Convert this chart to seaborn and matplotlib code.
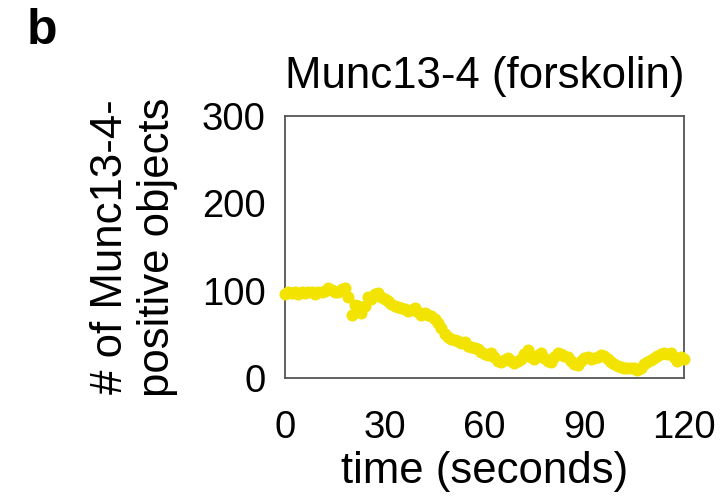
import matplotlib
matplotlib.use("Agg")
import matplotlib.pyplot as plt
import seaborn as sns
import numpy as np
import pandas as pd

time_s = list(range(0, 121))
objects = [96, 98, 97, 99, 96, 98, 97, 99, 98, 96, 99, 98, 100,
           103, 101, 99, 98, 102, 103, 93,
           72, 84, 82, 75, 83, 93, 90, 96, 97, 93,
           90, 88, 85, 83, 81, 80, 79, 77, 78, 80,
           76, 72, 74, 72, 71, 68, 63, 57, 50, 47,
           45, 44, 42, 40, 41, 37, 36, 34, 33, 30,
           27, 26, 29, 24, 19, 18, 21, 23, 20, 17,
           19, 22, 27, 32, 24, 22, 26, 29, 23, 20,
           18, 24, 29, 27, 25, 24, 20, 16, 15, 19,
           23, 24, 22, 23, 24, 26, 25, 22, 18, 16,
           14, 13, 12, 12, 11, 11, 9, 12, 16, 18,
           21, 23, 25, 28, 29, 27, 29, 24, 19, 24, 22]
x_ticks = [0, 30, 60, 90, 120]
y_ticks = [0, 100, 200, 300]

df = pd.DataFrame({"time": time_s, "objects": objects})

sns.set_theme(style="white")
plt.rcParams["font.family"] = ["Liberation Sans", "DejaVu Sans"]
plt.rcParams["text.color"] = "black"
plt.rcParams["axes.labelcolor"] = "black"

fig = plt.figure(figsize=(7.25, 5.01), dpi=100)
ax = fig.add_axes([285/725, 1-378/501, (684-285)/725, (378-116)/501])

sns.scatterplot(data=df, x="time", y="objects", ax=ax, color="#F2E300",
                s=75, linewidth=0, legend=False, zorder=3, clip_on=False)

ax.set_xlim(0, 120)
ax.set_ylim(0, 300)
ax.set_xticks(x_ticks)
ax.set_yticks(y_ticks)
ax.tick_params(axis="both", labelsize=27.5, direction="inout", length=14,
               width=1.3, color="#555555", labelcolor="black")
ax.tick_params(axis="x", pad=16)
ax.tick_params(axis="y", pad=7)
for sp in ax.spines.values():
    sp.set_color("#555555")
    sp.set_linewidth(1.3)
    sp.set_visible(True)

ax.set_xlabel("time (seconds)", fontsize=31.5, labelpad=4)
ax.set_ylabel("# of Munc13-4-\npositive objects", fontsize=31.5,
              linespacing=1.2)
ax.yaxis.set_label_coords((178 - 285) / 399, 0.5)
ax.set_title("Munc13-4 (forskolin)", fontsize=31.5, pad=20, color="black")
fig.text(27/725, 1-44/501, "b", fontsize=36, fontweight="bold", ha="left",
         va="baseline", color="black")

fig.savefig("out.png", dpi=100, facecolor="white")
